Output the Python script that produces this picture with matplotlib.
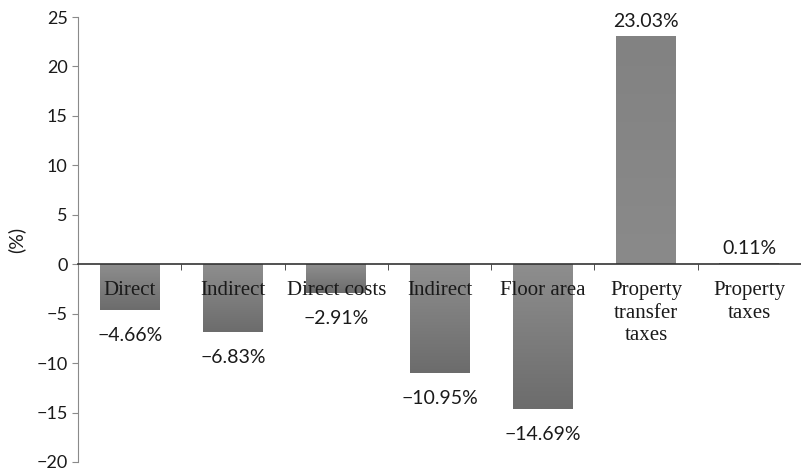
import numpy as np
import matplotlib
matplotlib.use("Agg")
import matplotlib.pyplot as plt

DPI = 100

# data
categorias = ["Direct", "Indirect", "Direct costs", "Indirect", "Floor area",
              "Property\ntransfer\ntaxes", "Property\ntaxes"]
valores = [-4.66, -6.83, -2.91, -10.95, -14.69, 23.03, 0.11]
rotulos = ["-4.66%", "-6.83%", "-2.91%", "-10.95%", "-14.69%", "23.03%", "0.11%"]
yticks = [-20, -15, -10, -5, 0, 5, 10, 15, 20, 25]

fig = plt.figure(figsize=(801/DPI, 472/DPI), dpi=DPI)
ax = fig.add_axes([78/801, 10/472, 1 - 78/801, 1 - 27/472])

x = np.arange(len(valores))
barras = ax.bar(x, valores, width=0.58, color="#7d7d7d", edgecolor="none", zorder=2)

# gradiente vertical dentro de cada barra
grad = np.linspace(0, 1, 100).reshape(-1, 1)
for b, v in zip(barras, valores):
    x0, y0 = b.get_x(), b.get_y()
    w, h = b.get_width(), b.get_height()
    if v < 0:
        cm = matplotlib.colors.LinearSegmentedColormap.from_list("g", ["#6c6c6c", "#8e8e8e"])
        ext = (x0, x0 + w, y0 + h, y0)
    else:
        cm = matplotlib.colors.LinearSegmentedColormap.from_list("g", ["#8a8a8a", "#828282"])
        ext = (x0, x0 + w, y0, y0 + h)
    im = ax.imshow(grad, extent=ext, cmap=cm, aspect="auto", origin="lower", zorder=2)
    im.set_clip_path(b)
    b.set_alpha(0.0)

ax.set_xlim(-0.5, len(valores) - 0.5)
ax.set_ylim(-20, 25)
ax.set_yticks(yticks)
ax.set_yticklabels([str(t).replace("-", "\u2212") for t in yticks],
                   fontsize=13, family="Lato", color="#1a1a1a")
ax.set_ylabel("(%)", fontsize=14, family="Lato", color="#1a1a1a", labelpad=8)

ax.spines["top"].set_visible(False)
ax.spines["right"].set_visible(False)
ax.spines["left"].set_color("#8a8a8a")
ax.spines["bottom"].set_position(("data", 0))
ax.spines["bottom"].set_color("#333333")
ax.spines["bottom"].set_linewidth(1.2)
ax.spines["bottom"].set_zorder(3)
ax.tick_params(axis="y", direction="out", length=4, color="#8a8a8a")

ax.set_xticks([])
ax.set_xticks(np.arange(0.5, len(valores) - 0.5), minor=True)
ax.tick_params(axis="x", which="minor", direction="out", length=4, color="#333333")

for xi, cat in zip(x, categorias):
    ax.annotate(cat, (xi, 0), xytext=(0, -17), textcoords="offset pixels",
                ha="center", va="top", fontsize=15, family="Liberation Serif",
                color="#1a1a1a", linespacing=1.25, zorder=4)

for xi, v, r in zip(x, valores, rotulos):
    if v < 0:
        ax.annotate(r.replace("-", "\u2212"), (xi, v), xytext=(0, -17), textcoords="offset pixels",
                    ha="center", va="top", fontsize=14, family="Lato", color="#1a1a1a")
    else:
        ax.annotate(r, (xi, v), xytext=(0, 6), textcoords="offset pixels",
                    ha="center", va="bottom", fontsize=14, family="Lato", color="#1a1a1a")

plt.savefig("out.png", dpi=DPI)
